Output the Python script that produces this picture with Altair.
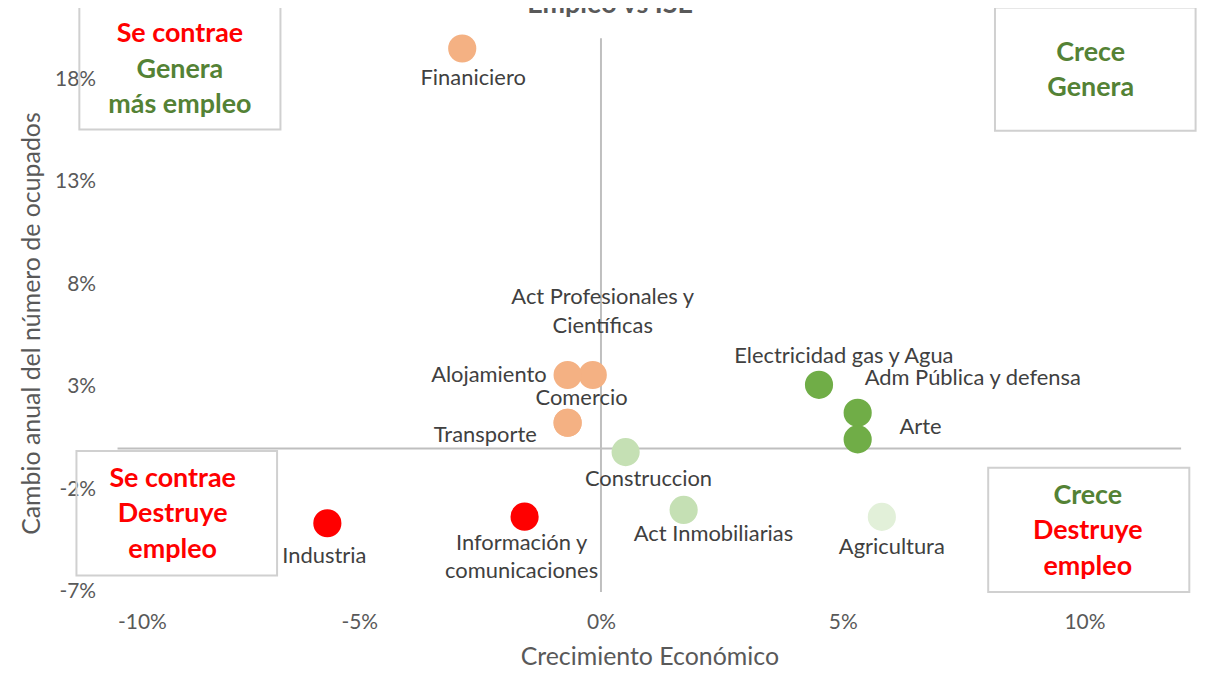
import altair as alt
import pandas as pd

# ---------------- data ----------------
sectores = [
    "Finaniciero", "Act Profesionales y Científicas", "Alojamiento", "Comercio",
    "Transporte", "Construccion", "Act Inmobiliarias", "Agricultura",
    "Electricidad gas y Agua", "Adm Pública y defensa", "Arte", "Industria",
    "Información y comunicaciones",
]
crecimiento = [-2.87, -0.17, -0.69, -0.69, -0.69, 0.51, 1.71, 5.81, 4.51, 5.31, 5.31, -5.66, -1.58]
empleo = [19.5, 3.58, 3.58, 1.25, 1.25, -0.18, -3.00, -3.34, 3.10, 1.74, 0.44, -3.65, -3.33]
grupo = [
    "Se contrae, genera", "Se contrae, genera", "Se contrae, genera", "Se contrae, genera",
    "Se contrae, genera", "Crece, destruye poco", "Crece, destruye poco", "Crece, destruye",
    "Crece, genera", "Crece, genera", "Crece, genera", "Se contrae, destruye",
    "Se contrae, destruye",
]
x_ticks = [-10, -5, 0, 5, 10]
y_ticks = [-7, -2, 3, 8, 13, 18]

titulo = "Empleo vs ISE"
x_titulo = "Crecimiento Económico"
y_titulo = "Cambio anual del número de ocupados"

# quadrant annotation text
cuadrante_lineas = [
    ["Se contrae", "Genera", "más empleo"],
    ["Crece", "Genera"],
    ["Se contrae", "Destruye", "empleo"],
    ["Crece", "Destruye", "empleo"],
]
cuadrante_tono = [
    ["rojo", "verde", "verde"],
    ["verde", "verde"],
    ["rojo", "rojo", "rojo"],
    ["verde", "rojo", "rojo"],
]

# ---------------- styling / layout ----------------
FONT = "Lato"
GRAY_TXT = "#595959"
LABEL_TXT = "#404040"
AXIS_LINE = "#BFBFBF"

grupo_dom = ["Se contrae, genera", "Crece, genera", "Crece, destruye poco",
             "Crece, destruye", "Se contrae, destruye"]
grupo_col = ["#F4B183", "#70AD47", "#C5E0B4", "#E2F0D9", "#FF0000"]
tono_dom = ["rojo", "verde"]
tono_col = ["#FF0000", "#548235"]

X_DOM = [-10, 12]
Y_DOM = [-7, 20]

# label placement: (align, dx, dy) in px relative to point centre
label_off = {
    "Finaniciero": ("center", 11, 30),
    "Act Profesionales y Científicas": ("center", 10, -78),
    "Alojamiento": ("right", -21, 0),
    "Comercio": ("center", 14, -25),
    "Transporte": ("right", -31, 12),
    "Construccion": ("center", 23, 27),
    "Act Inmobiliarias": ("center", 30, 24),
    "Agricultura": ("center", 10, 30),
    "Electricidad gas y Agua": ("center", 25, -29),
    "Adm Pública y defensa": ("left", 7, -35),
    "Arte": ("left", 42, -12),
    "Industria": ("center", -3, 33),
    "Información y comunicaciones": ("center", -3, 26),
}
wrap = {
    "Act Profesionales y Científicas": "Act Profesionales y\nCientíficas",
    "Información y comunicaciones": "Información y\ncomunicaciones",
}

# quadrant boxes & text anchors, in data units
box_x1 = [-10.79, 8.15, -10.85, 8.01]
box_x2 = [-6.63, 12.30, -6.70, 12.17]
box_y1 = [21.57, 21.50, -0.13, -0.94]
box_y2 = [15.55, 15.49, -6.20, -7.00]
text_x = [-8.71, 10.13, -8.86, 10.07]
text_y0 = [20.19, 19.27, -1.50, -2.33]
line_step = 1.72

df = pd.DataFrame({"sector": sectores, "x": crecimiento, "y": empleo, "grupo": grupo})
df["label"] = [wrap.get(s, s) for s in sectores]

xs = alt.Scale(domain=X_DOM, nice=False, zero=False)
ys = alt.Scale(domain=Y_DOM, nice=False, zero=False)

x_axis = alt.Axis(values=x_ticks, labelExpr="datum.value + '%'", domain=False, ticks=False,
                  grid=False, labelFont=FONT, labelFontSize=21, labelColor=GRAY_TXT,
                  labelPadding=20, title=x_titulo, titleFont=FONT, titleFontSize=25,
                  titleFontWeight="normal", titleColor=GRAY_TXT, titlePadding=12)
y_axis = alt.Axis(values=y_ticks, labelExpr="datum.value + '%'", domain=False, ticks=False,
                  grid=False, labelFont=FONT, labelFontSize=21, labelColor=GRAY_TXT,
                  labelPadding=22, title=y_titulo, titleFont=FONT, titleFontSize=25,
                  titleFontWeight="normal", titleColor=GRAY_TXT, titlePadding=10,
                  titleY=286)

# boxes
boxes_df = pd.DataFrame({"x1": box_x1, "x2": box_x2, "y1": box_y1, "y2": box_y2})
boxes = alt.Chart(boxes_df).mark_rect(fill="transparent", stroke="#D0D0D0", strokeWidth=2).encode(
    x=alt.X("x1:Q", scale=xs, axis=x_axis), x2="x2:Q",
    y=alt.Y("y1:Q", scale=ys, axis=y_axis), y2="y2:Q",
)

rows = []
for i, lines in enumerate(cuadrante_lineas):
    for j, t in enumerate(lines):
        rows.append({"t": t, "x": text_x[i], "y": text_y0[i] - j * line_step,
                     "tono": cuadrante_tono[i][j]})
qtext_df = pd.DataFrame(rows)
qtext = alt.Chart(qtext_df).mark_text(font=FONT, fontSize=27, fontWeight="bold",
                                      align="center", baseline="middle").encode(
    x=alt.X("x:Q", scale=xs), y=alt.Y("y:Q", scale=ys), text="t:N",
    color=alt.Color("tono:N", scale=alt.Scale(domain=tono_dom, range=tono_col), legend=None),
)

# axis cross lines
vrule = alt.Chart(pd.DataFrame({"x": [0]})).mark_rule(color=AXIS_LINE, strokeWidth=2).encode(
    x=alt.X("x:Q", scale=xs))
hrule = alt.Chart(pd.DataFrame({"y": [0]})).mark_rule(color=AXIS_LINE, strokeWidth=2).encode(
    y=alt.Y("y:Q", scale=ys))

points = alt.Chart(df).mark_circle(size=800, opacity=1).encode(
    x=alt.X("x:Q", scale=xs), y=alt.Y("y:Q", scale=ys),
    color=alt.Color("grupo:N", scale=alt.Scale(domain=grupo_dom, range=grupo_col), legend=None),
)

labels = []
for s in sectores:
    al, dx, dy = label_off[s]
    labels.append(
        alt.Chart(df).transform_filter(alt.datum.sector == s).mark_text(
            font=FONT, fontSize=22, color=LABEL_TXT, align=al, baseline="middle",
            dx=dx, dy=dy, lineBreak="\n", lineHeight=29,
        ).encode(x=alt.X("x:Q", scale=xs), y=alt.Y("y:Q", scale=ys), text="label:N")
    )

title_df = pd.DataFrame({"t": [titulo], "x": [0.19]})
title = alt.Chart(title_df).mark_text(font=FONT, fontSize=27, fontWeight="bold", color=GRAY_TXT,
                                      align="center", baseline="alphabetic").encode(
    x=alt.X("x:Q", scale=xs), y=alt.value(-25), text="t:N")

chart = alt.layer(boxes, qtext, vrule, hrule, points, *labels, title).resolve_scale(
    color="independent"
).properties(
    width=1068, height=556,
    background="white",
    autosize=alt.AutoSizeParams(type="none"),
    padding={"left": 110, "top": 29, "right": 22, "bottom": 80},
).configure_view(strokeWidth=0, stroke="transparent")

chart.save("out.html", embed_options={"renderer": "svg", "actions": False})
